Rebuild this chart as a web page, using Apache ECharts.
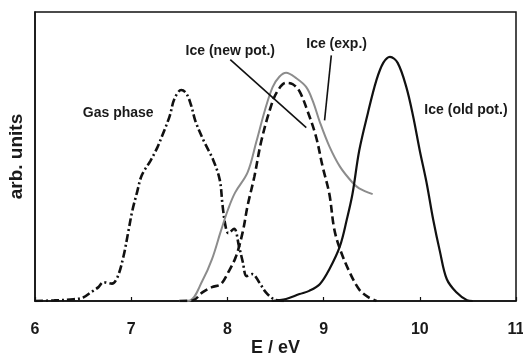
<!DOCTYPE html>
<html>
<head>
<meta charset="utf-8">
<script src="https://cdn.jsdelivr.net/npm/echarts@6/dist/echarts.min.js"></script>
<style>
  html, body { margin: 0; padding: 0; background: #fff; }
  #chart { width: 523px; height: 355px; }
</style>
</head>
<body>
<div id="chart"></div>
<script>
// Energy axis ticks (eV)
const energyTicks = [6, 7, 8, 9, 10, 11];

// Spectra: [E (eV), intensity (arb. units)]
const gasPhase = [
  [6.0, 0], [6.2, 0.002], [6.4, 0.006], [6.5, 0.012], [6.58, 0.03], [6.66, 0.048],
  [6.71, 0.065], [6.8, 0.06], [6.86, 0.085], [6.92, 0.155], [6.97, 0.24], [7.01, 0.31],
  [7.06, 0.375], [7.11, 0.435], [7.2, 0.485], [7.27, 0.53], [7.32, 0.57], [7.4, 0.64],
  [7.45, 0.70], [7.52, 0.73], [7.57, 0.72], [7.62, 0.68], [7.67, 0.62], [7.76, 0.55],
  [7.85, 0.49], [7.92, 0.42], [7.95, 0.33], [7.98, 0.26], [8.01, 0.235], [8.07, 0.25],
  [8.12, 0.19], [8.16, 0.135], [8.2, 0.086], [8.26, 0.093], [8.33, 0.065], [8.4, 0.03],
  [8.49, 0.005], [8.6, 0]
];

const iceNewPot = [
  [7.5, 0], [7.64, 0.002], [7.74, 0.03], [7.84, 0.048], [7.93, 0.058], [8.01, 0.10],
  [8.09, 0.155], [8.16, 0.24], [8.21, 0.33], [8.28, 0.43], [8.35, 0.55], [8.44, 0.66],
  [8.51, 0.72], [8.61, 0.755], [8.68, 0.75], [8.75, 0.725], [8.83, 0.66], [8.92, 0.57],
  [8.99, 0.465], [9.06, 0.37], [9.11, 0.25], [9.17, 0.18], [9.27, 0.10], [9.37, 0.04],
  [9.46, 0.014], [9.55, 0]
];

const iceExp = [
  [7.5, 0], [7.61, 0.002], [7.74, 0.07], [7.84, 0.145], [7.93, 0.24], [8.01, 0.32],
  [8.08, 0.375], [8.21, 0.445], [8.30, 0.55], [8.39, 0.66], [8.47, 0.74], [8.54, 0.776],
  [8.61, 0.79], [8.72, 0.77], [8.82, 0.74], [8.89, 0.69], [8.96, 0.62], [9.06, 0.535],
  [9.17, 0.465], [9.30, 0.41], [9.37, 0.39], [9.51, 0.37]
];

const iceOldPot = [
  [8.46, 0], [8.61, 0.007], [8.75, 0.024], [8.85, 0.035], [8.96, 0.058], [9.06, 0.11],
  [9.17, 0.19], [9.24, 0.28], [9.30, 0.37], [9.37, 0.52], [9.46, 0.65], [9.55, 0.765],
  [9.62, 0.824], [9.69, 0.845], [9.77, 0.824], [9.86, 0.74], [9.93, 0.64], [10.0, 0.52],
  [10.07, 0.41], [10.14, 0.28], [10.21, 0.17], [10.28, 0.076], [10.38, 0.03],
  [10.49, 0.003], [10.55, 0]
];

// Curve labels and their leader lines (data coordinates)
const curveLabels = [
  { text: 'Gas phase', at: [6.865, 0.65] },
  { text: 'Ice (new pot.)', at: [8.03, 0.865] },
  { text: 'Ice (exp.)', at: [9.135, 0.89] },
  { text: 'Ice (old pot.)', at: [10.48, 0.66] }
];
const leaderLines = [
  [[8.03, 0.835], [8.82, 0.60]],
  [[9.08, 0.85], [9.01, 0.625]]
];

const FONT = '"Liberation Sans", Arial, sans-serif';
const chart = echarts.init(document.getElementById('chart'), null, { renderer: 'canvas' });

function curve(name, data, color, width, dash) {
  return {
    name, type: 'line', data, smooth: 0.35, symbol: 'none', silent: true,
    lineStyle: { color, width, type: dash || 'solid', cap: 'butt' },
    z: 3
  };
}

chart.setOption({
  animation: false,
  backgroundColor: '#fff',
  grid: {
    left: 35, right: 7, top: 12, bottom: 54,
    outerBoundsMode: 'none', containLabel: false,
    show: true, borderColor: '#111', borderWidth: 1.5, backgroundColor: 'transparent'
  },
  xAxis: {
    type: 'value', min: energyTicks[0], max: energyTicks[energyTicks.length - 1], interval: 1,
    axisLine: { show: true, lineStyle: { color: '#111', width: 1.5 } },
    axisTick: { show: true, inside: true, length: 4, lineStyle: { color: '#111', width: 1.2 } },
    axisLabel: {
      margin: 21, color: '#1a1a1a', fontFamily: FONT, fontWeight: 'bold', fontSize: 16,
      formatter: v => energyTicks.includes(v) ? String(v) : ''
    },
    splitLine: { show: false },
    name: 'E / eV', nameLocation: 'middle', nameGap: 38, nameMoveOverlap: false,
    nameTextStyle: { color: '#1a1a1a', fontFamily: FONT, fontWeight: 'bold', fontSize: 18 }
  },
  yAxis: {
    type: 'value', min: 0, max: 1,
    axisLine: { show: true, lineStyle: { color: '#111', width: 1.5 } },
    axisTick: { show: false }, axisLabel: { show: false }, splitLine: { show: false },
    name: 'arb. units', nameLocation: 'middle', nameGap: 9, nameRotate: 90,
    nameTextStyle: { color: '#1a1a1a', fontFamily: FONT, fontWeight: 'bold', fontSize: 19 }
  },
  series: [
    curve('Gas phase', gasPhase, '#111', 2.6, [8, 3, 2, 3]),
    curve('Ice (exp.)', iceExp, '#8c8c8c', 2, 'solid'),
    curve('Ice (new pot.)', iceNewPot, '#111', 2.6, [8, 4]),
    curve('Ice (old pot.)', iceOldPot, '#111', 2.2, 'solid'),
    {
      name: 'annotations', type: 'line', data: [], silent: true, z: 4,
      markLine: {
        silent: true, symbol: ['none', 'none'], animation: false,
        lineStyle: { color: '#111', width: 1.6, type: 'solid' },
        label: { show: false },
        data: leaderLines.map(([a, b]) => [{ coord: a }, { coord: b }])
      },
      markPoint: {
        silent: true, symbol: 'circle', symbolSize: 0, animation: false,
        label: {
          show: true, position: 'inside', color: '#1a1a1a',
          fontFamily: FONT, fontWeight: 'bold', fontSize: 14,
          formatter: p => p.name
        },
        data: curveLabels.map(l => ({ name: l.text, coord: l.at }))
      }
    }
  ]
});
</script>
</body>
</html>
